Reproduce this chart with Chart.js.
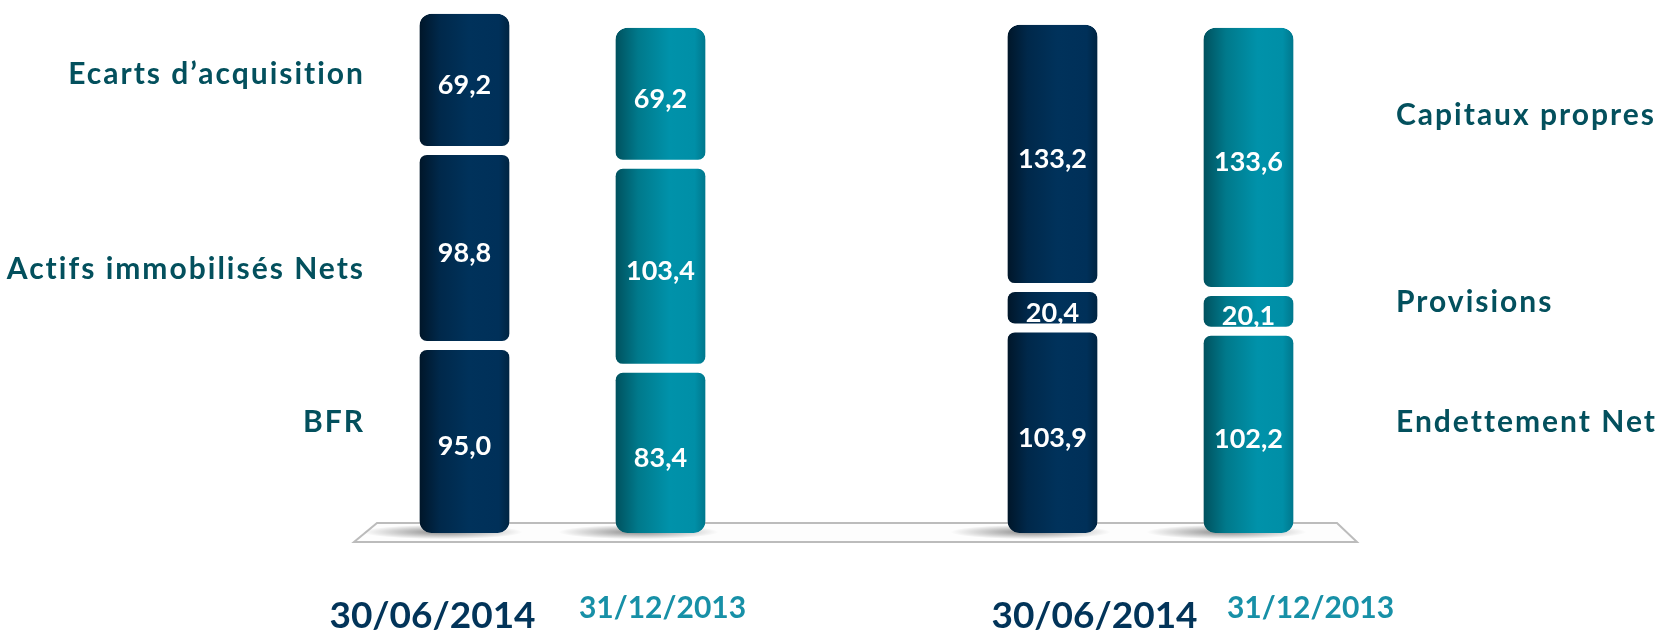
<!DOCTYPE html>
<html>
<head>
<meta charset="utf-8">
<script src="https://cdn.jsdelivr.net/npm/chart.js@4/dist/chart.umd.min.js"></script>
<style>
  html, body { margin: 0; padding: 0; background: #fff; }
  #wrap { width: 1668px; height: 631px; position: relative; }
</style>
</head>
<body>
<div id="wrap"><canvas id="chart-area"></canvas></div>
<script>
// columns: actif 30/06, actif 31/12, (gap), passif 30/06, passif 31/12
var categories = ['30/06/2014', '31/12/2013', '', '30/06/2014', '31/12/2013'];
var bottomValues = [95.0, 83.4, null, 103.9, 102.2];   // BFR / Endettement Net
var middleValues = [98.8, 103.4, null, 20.4, 20.1];    // Actifs immobilisés Nets / Provisions
var topValues = [69.2, 69.2, null, 133.2, 133.6];      // Ecarts d'acquisition / Capitaux propres
var leftLabels = ['Ecarts d’acquisition', 'Actifs immobilisés Nets', 'BFR'];
var rightLabels = ['Capitaux propres', 'Provisions', 'Endettement Net'];

var darkStops = [[0, '#001629'], [0.22, '#00284a'], [0.55, '#00325b'], [0.88, '#003059'], [1, '#002441']];
var tealStops = [[0, '#00515e'], [0.25, '#00798b'], [0.6, '#0092aa'], [0.88, '#008fa7'], [1, '#00778c']];
var darkText = '#023459';
var tealText = '#1790a7';
var labelText = '#03505d';

var barPct = 0.46;
var gapHalf = 4.5;

function barFill(ctx) {
  var chart = ctx.chart;
  var x = chart.scales.x;
  if (!chart.chartArea || !x) return '#00325b';
  var cx = x.getPixelForValue(ctx.dataIndex);
  var half = (x.width / categories.length) * barPct / 2;
  var g = chart.ctx.createLinearGradient(cx - half, 0, cx + half, 0);
  var stops = (ctx.dataIndex % 3 === 0) ? darkStops : tealStops;
  stops.forEach(function(s) { g.addColorStop(s[0], s[1]); });
  return g;
}

function fmt(v) {
  return v.toFixed(1).replace('.', ',');
}

var radius = {topLeft: 12, topRight: 12, bottomLeft: 12, bottomRight: 12};

var decor = {
  id: 'decor',
  beforeDatasetsDraw: function(chart) {
    var c = chart.ctx, a = chart.chartArea, x = chart.scales.x, y = chart.scales.y;
    var base = y.getPixelForValue(0);
    c.save();
    // floor plate
    c.beginPath();
    c.moveTo(a.left + 10.5, base - 10);
    c.lineTo(a.right - 9.5, base - 10);
    c.lineTo(a.right + 10.5, base + 9);
    c.lineTo(a.left - 12.5, base + 9);
    c.closePath();
    c.fillStyle = '#fdfdfd';
    c.fill();
    c.lineWidth = 2;
    c.strokeStyle = '#bcbcbc';
    c.stroke();
    // soft shadows at the foot of each bar
    categories.forEach(function(lab, i) {
      if (bottomValues[i] === null) return;
      var cx = x.getPixelForValue(i) - 22;
      c.save();
      c.translate(cx, base - 1);
      c.scale(1, 0.09);
      var g = c.createRadialGradient(0, 0, 0, 0, 0, 80);
      g.addColorStop(0, 'rgba(0,0,0,0.45)');
      g.addColorStop(1, 'rgba(0,0,0,0)');
      c.fillStyle = g;
      c.beginPath();
      c.arc(0, 0, 80, 0, Math.PI * 2);
      c.fill();
      c.restore();
    });
    c.restore();
  },
  afterDatasetsDraw: function(chart) {
    var c = chart.ctx;
    c.save();
    c.fillStyle = '#ffffff';
    c.font = 'bold 27px Lato';
    c.textAlign = 'center';
    c.textBaseline = 'alphabetic';
    chart.data.datasets.forEach(function(ds, di) {
      var meta = chart.getDatasetMeta(di);
      var bw = ds.borderWidth;
      meta.data.forEach(function(el, i) {
        var v = ds.data[i];
        if (v === null) return;
        var top = el.y + bw.top, bottom = el.base - bw.bottom;
        c.fillText(fmt(v), el.x, (top + bottom) / 2 + 14);
      });
    });
    c.restore();
  },
  afterDraw: function(chart) {
    var c = chart.ctx, x = chart.scales.x;
    c.save();
    c.fillStyle = labelText;
    c.font = 'bold 30px Lato';
    c.letterSpacing = '2px';
    c.textBaseline = 'alphabetic';
    c.textAlign = 'right';
    var leftY = [84, 279, 432];
    leftLabels.forEach(function(t, i) { c.fillText(t, 365, leftY[i]); });
    c.textAlign = 'left';
    var rightY = [125, 312, 432];
    rightLabels.forEach(function(t, i) { c.fillText(t, 1396, rightY[i]); });
    // period labels under the floor
    c.letterSpacing = '0px';
    var shift = [-32, 2, 0, 42, 62];
    c.textAlign = 'center';
    categories.forEach(function(t, i) {
      if (!t) return;
      var dark = i % 3 === 0;
      c.fillStyle = dark ? darkText : tealText;
      c.font = dark ? 'bold 37px Lato' : 'bold 30px Lato';
      c.fillText(t, x.getPixelForValue(i) + shift[i], dark ? 628 : 618);
    });
    c.restore();
  }
};

var config = {
  type: 'bar',
  data: {
    labels: categories,
    datasets: [{
      label: 'BFR / Endettement Net',
      data: bottomValues,
      backgroundColor: barFill,
      borderColor: 'rgba(0,0,0,0)',
      borderWidth: {top: gapHalf, bottom: 0, left: 0, right: 0},
      borderSkipped: false,
      borderRadius: radius
    }, {
      label: 'Actifs immobilisés Nets / Provisions',
      data: middleValues,
      backgroundColor: barFill,
      borderColor: 'rgba(0,0,0,0)',
      borderWidth: {top: gapHalf, bottom: gapHalf, left: 0, right: 0},
      borderSkipped: false,
      borderRadius: radius
    }, {
      label: 'Ecarts d’acquisition / Capitaux propres',
      data: topValues,
      backgroundColor: barFill,
      borderColor: 'rgba(0,0,0,0)',
      borderWidth: {top: 0, bottom: gapHalf, left: 0, right: 0},
      borderSkipped: false,
      borderRadius: radius
    }]
  },
  options: {
    responsive: true,
    maintainAspectRatio: false,
    animation: false,
    layout: { padding: { left: 366.5, right: 321.5, top: 0, bottom: 98 } },
    datasets: { bar: { categoryPercentage: 1, barPercentage: barPct } },
    plugins: {
      legend: { display: false },
      tooltip: { enabled: false }
    },
    scales: {
      x: { stacked: true, display: false, grid: { display: false } },
      y: { stacked: true, display: false, min: 0, max: 270 }
    }
  },
  plugins: [decor]
};

window.onload = function() {
  var ctx = document.getElementById('chart-area').getContext('2d');
  window.myBar = new Chart(ctx, config);
};
</script>
</body>
</html>
